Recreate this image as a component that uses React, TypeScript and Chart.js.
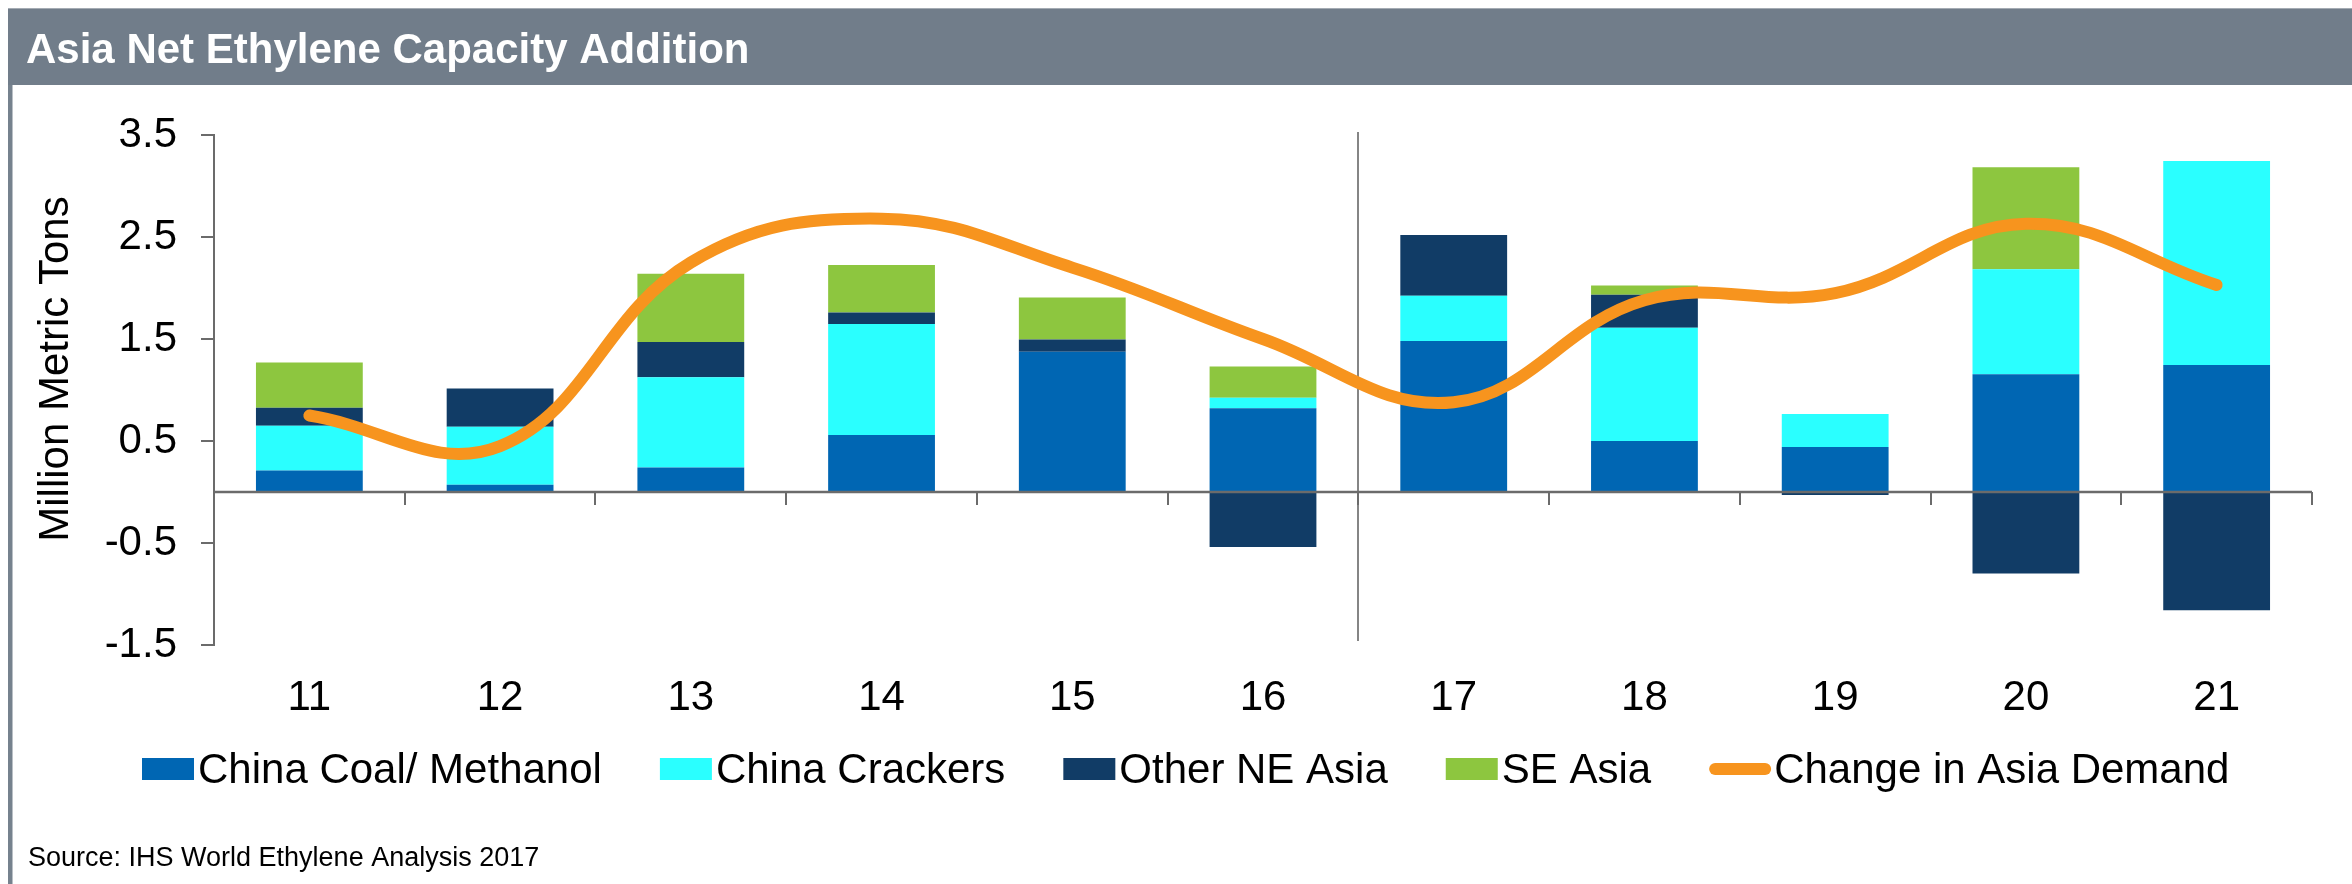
import React, { useEffect, useRef } from 'react';
import { Chart, registerables } from 'chart.js';

Chart.register(...registerables);

const W = 2352;
const H = 884;
const FONT = '"Liberation Sans", Arial, Helvetica, sans-serif';

const TITLE = 'Asia Net Ethylene Capacity Addition';
const Y_TITLE = 'Million Metric Tons';
const SOURCE = 'Source: IHS World Ethylene Analysis 2017';

const CATEGORIES = ['11', '12', '13', '14', '15', '16', '17', '18', '19', '20', '21'];
const CHINA_COAL = [0.21, 0.07, 0.24, 0.56, 1.375, 0.82, 1.48, 0.5, 0.44, 1.155, 1.245];
const CHINA_CRACKERS = [0.44, 0.57, 0.885, 1.087, 0, 0.105, 0.445, 1.11, 0.325, 1.03, 2.0];
const OTHER_NE_ASIA = [0.175, 0.375, 0.345, 0.113, 0.12, -0.54, 0.595, 0.325, -0.03, -0.8, -1.16];
const SE_ASIA = [0.445, 0, 0.67, 0.465, 0.413, 0.305, 0, 0.09, 0, 1.0, 0];
const ASIA_DEMAND = [0.75, 0.45, 2.25, 2.68, 2.2, 1.5, 0.88, 1.88, 1.95, 2.63, 2.03];
const Y_TICKS = [-1.5, -0.5, 0.5, 1.5, 2.5, 3.5];

const AXIS_COLOR = '#6B6B6B';

const decor = {
  id: 'decor',
  beforeDraw(chart: any) {
    const ctx = chart.ctx;
    ctx.save();
    ctx.fillStyle = '#ffffff';
    ctx.fillRect(0, 0, W, H);
    // header band
    ctx.fillStyle = '#A4ABB3';
    ctx.fillRect(8, 8, W - 8, 1);
    ctx.fillStyle = '#717D8A';
    ctx.fillRect(8, 9, W - 8, 76);
    // left border
    ctx.fillStyle = '#76828E';
    ctx.fillRect(8, 85, 4.5, H - 85);
    // title
    ctx.font = `bold 42px ${FONT}`;
    ctx.fillStyle = '#ffffff';
    ctx.textBaseline = 'alphabetic';
    ctx.textAlign = 'left';
    ctx.fillText(TITLE, 26, 63);
    // source
    ctx.font = `27px ${FONT}`;
    ctx.fillStyle = '#000000';
    ctx.fillText(SOURCE, 28, 866);
    ctx.restore();
  },
  beforeDatasetsDraw(chart: any) {
    const ctx = chart.ctx;
    const xs = chart.scales.x;
    const area = chart.chartArea;
    const sx = Math.round((xs.getPixelForValue(5) + xs.getPixelForValue(6)) / 2);
    ctx.save();
    ctx.strokeStyle = '#858585';
    ctx.lineWidth = 2;
    ctx.beginPath();
    ctx.moveTo(sx, area.top - 3);
    ctx.lineTo(sx, area.bottom - 4);
    ctx.stroke();
    ctx.restore();
  },
  afterDatasetsDraw(chart: any) {
    const ctx = chart.ctx;
    const ys = chart.scales.y;
    const area = chart.chartArea;
    const y0 = ys.getPixelForValue(0);
    const cw = (area.right - area.left) / CATEGORIES.length;
    ctx.save();
    ctx.strokeStyle = AXIS_COLOR;
    ctx.lineWidth = 2.5;
    ctx.beginPath();
    ctx.moveTo(area.left, y0);
    ctx.lineTo(area.right, y0);
    ctx.stroke();
    ctx.lineWidth = 2;
    for (let i = 1; i <= CATEGORIES.length; i++) {
      const x = Math.round(area.left + i * cw);
      ctx.beginPath();
      ctx.moveTo(x, y0);
      ctx.lineTo(x, y0 + 13);
      ctx.stroke();
    }
    ctx.restore();
  },
  afterDraw(chart: any) {
    const ctx = chart.ctx;
    ctx.save();
    // y axis title
    ctx.font = `42px ${FONT}`;
    ctx.fillStyle = '#000000';
    ctx.textAlign = 'center';
    ctx.textBaseline = 'alphabetic';
    ctx.translate(68, 369);
    ctx.rotate(-Math.PI / 2);
    ctx.fillText(Y_TITLE, 0, 0);
    ctx.restore();

    // legend
    ctx.save();
    ctx.font = `42px ${FONT}`;
    ctx.textAlign = 'left';
    ctx.textBaseline = 'alphabetic';
    let x = 142;
    const yc = 769;
    chart.data.datasets.forEach((ds: any) => {
      if (ds.type === 'line') {
        ctx.strokeStyle = ds.borderColor;
        ctx.lineWidth = 12;
        ctx.lineCap = 'round';
        ctx.beginPath();
        ctx.moveTo(x + 6, yc);
        ctx.lineTo(x + 56, yc);
        ctx.stroke();
        x += 65;
      } else {
        ctx.fillStyle = ds.backgroundColor;
        ctx.fillRect(x, yc - 11, 52, 22);
        x += 56;
      }
      ctx.fillStyle = '#000000';
      ctx.fillText(ds.label, x, 783);
      x += ctx.measureText(ds.label).width + 58;
    });
    ctx.restore();
  },
};

export default function App() {
  const ref = useRef<HTMLCanvasElement | null>(null);

  useEffect(() => {
    document.body.style.margin = '0';
    document.documentElement.style.overflow = 'hidden';
    const canvas = ref.current;
    if (!canvas) return;
    const chart = new Chart(canvas, {
      type: 'bar',
      data: {
        labels: CATEGORIES,
        datasets: [
          { label: 'China Coal/ Methanol', data: CHINA_COAL, backgroundColor: '#0066B3', stack: 's', order: 1 },
          { label: 'China Crackers', data: CHINA_CRACKERS, backgroundColor: '#2AFFFF', stack: 's', order: 1 },
          { label: 'Other NE Asia', data: OTHER_NE_ASIA, backgroundColor: '#113C66', stack: 's', order: 1 },
          { label: 'SE Asia', data: SE_ASIA, backgroundColor: '#8DC63F', stack: 's', order: 1 },
          {
            type: 'line',
            label: 'Change in Asia Demand',
            data: ASIA_DEMAND,
            borderColor: '#F7941E',
            backgroundColor: '#F7941E',
            borderWidth: 12,
            tension: 0.4,
            pointRadius: 0,
            borderCapStyle: 'round',
            borderJoinStyle: 'round',
            fill: false,
            order: 0,
          } as any,
        ],
      },
      options: {
        responsive: false,
        animation: false,
        devicePixelRatio: 1,
        layout: { padding: { top: 135, right: 40, bottom: 139, left: 0 } },
        datasets: { bar: { categoryPercentage: 1, barPercentage: 0.56 } },
        plugins: {
          legend: { display: false },
          tooltip: { enabled: false },
          title: { display: false },
        },
        scales: {
          x: {
            stacked: true,
            grid: { display: false },
            border: { display: false },
            ticks: { color: '#000', font: { size: 42, family: FONT }, padding: 20, maxRotation: 0 },
            afterFit: (s: any) => {
              s.height = 100;
            },
          },
          y: {
            stacked: true,
            min: -1.5,
            max: 3.5,
            afterBuildTicks: (s: any) => {
              s.ticks = Y_TICKS.map((v) => ({ value: v }));
            },
            ticks: {
              color: '#000',
              font: { size: 42, family: FONT },
              padding: 24,
              callback: (v: any) => Number(v).toFixed(1),
            },
            grid: { drawOnChartArea: false, drawTicks: true, tickLength: 13, color: AXIS_COLOR, lineWidth: 2 },
            border: { display: true, color: AXIS_COLOR, width: 2 },
            afterFit: (s: any) => {
              s.width = 214;
            },
          },
        },
      } as any,
      plugins: [decor],
    });
    return () => chart.destroy();
  }, []);

  return <canvas ref={ref} width={W} height={H} style={{ display: 'block', width: W, height: H }} />;
}
